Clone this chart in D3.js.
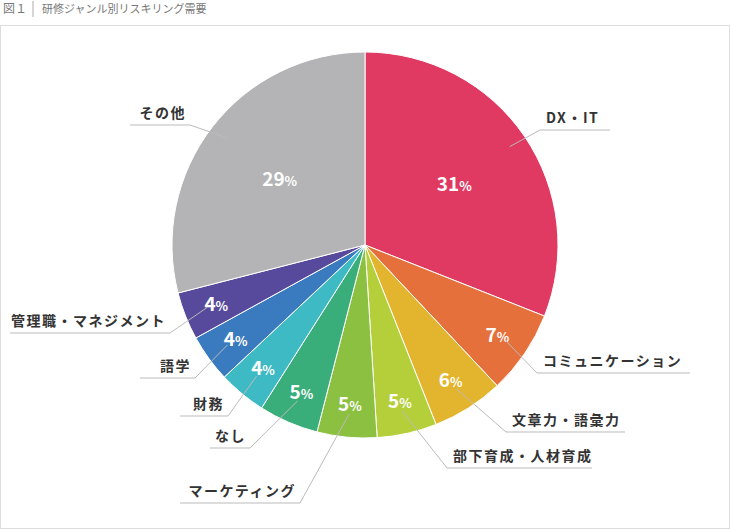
<!DOCTYPE html><html><head><meta charset="utf-8"><script src="https://cdn.jsdelivr.net/npm/d3@7"></script>
<style>body{margin:0;background:#fff}text{font-family:"Noto Sans CJK JP","Noto Sans",sans-serif}</style></head><body><svg id="c" width="730" height="529"></svg>
<script>
const categories=["DX・IT","コミュニケーション","文章力・語彙力","部下育成・人材育成","マーケティング","なし","財務","語学","管理職・マネジメント","その他"];
const values=[31,7,6,5,5,5,4,4,4,29];
const colors=["#e03a62","#e6703c","#e3b52e","#b5cf3a","#8bc040","#3aae7a","#3dbac4","#3a7bbf","#574a9c","#b4b4b6"];
// layout: elbow point, underline end x, label text anchor side
const elbow=[[540,130],[537,373],[506,432],[447,468],[300,503],[250,448],[228,416],[195,378],[170,333],[190,125]];
const lineEnd=[610,690,625,592,180,210,180,140,10,130];
const svg=d3.select("#c");
svg.append("rect").attr("x",0.5).attr("y",25.5).attr("width",729).attr("height",503).attr("fill","none").attr("stroke","#ddd");
svg.append("text").attr("x",3).attr("y",13).attr("font-size",12).attr("fill","#777").text("図１");
svg.append("line").attr("x1",33).attr("x2",33).attr("y1",1).attr("y2",17).attr("stroke","#aaa");
svg.append("text").attr("x",42).attr("y",13).attr("font-size",11).attr("fill","#777").text("研修ジャンル別リスキリング需要");
const cx=365,cy=245,R=193;
const g=svg.append("g").attr("transform",`translate(${cx},${cy})`);
const arcs=d3.pie().sort(null).value(d=>d)(values);
const arc=d3.arc().innerRadius(0).outerRadius(R);
g.selectAll("path").data(arcs).join("path").attr("d",arc).attr("fill",(d,i)=>colors[i]).attr("stroke","#fff").attr("stroke-width",1);
arcs.forEach((a,i)=>{
  const m=(a.startAngle+a.endAngle)/2;
  const rl=values[i]>20?108:160;
  const t=g.append("text").attr("x",Math.sin(m)*rl).attr("y",-Math.cos(m)*rl+7).attr("text-anchor","middle").attr("fill","#fff").attr("font-weight","bold");
  t.append("tspan").attr("font-size",19).text(values[i]);
  t.append("tspan").attr("font-size",13).text("%");
  const rs=values[i]>20?175:170;
  const sx=cx+Math.sin(m)*rs, sy=cy-Math.cos(m)*rs;
  const [ex,ey]=elbow[i], lx=lineEnd[i];
  svg.append("polyline").attr("points",`${sx},${sy} ${ex},${ey} ${lx},${ey}`).attr("fill","none").attr("stroke","#bbb").attr("stroke-width",1);
  const right=lx>ex;
  svg.append("text").attr("x",right?ex+6:ex-4).attr("y",ey-7).attr("font-size",14).attr("font-weight","bold").attr("fill","#333").attr("letter-spacing",1.5).attr("text-anchor",right?"start":"end").text(categories[i]);
});
</script></body></html>
